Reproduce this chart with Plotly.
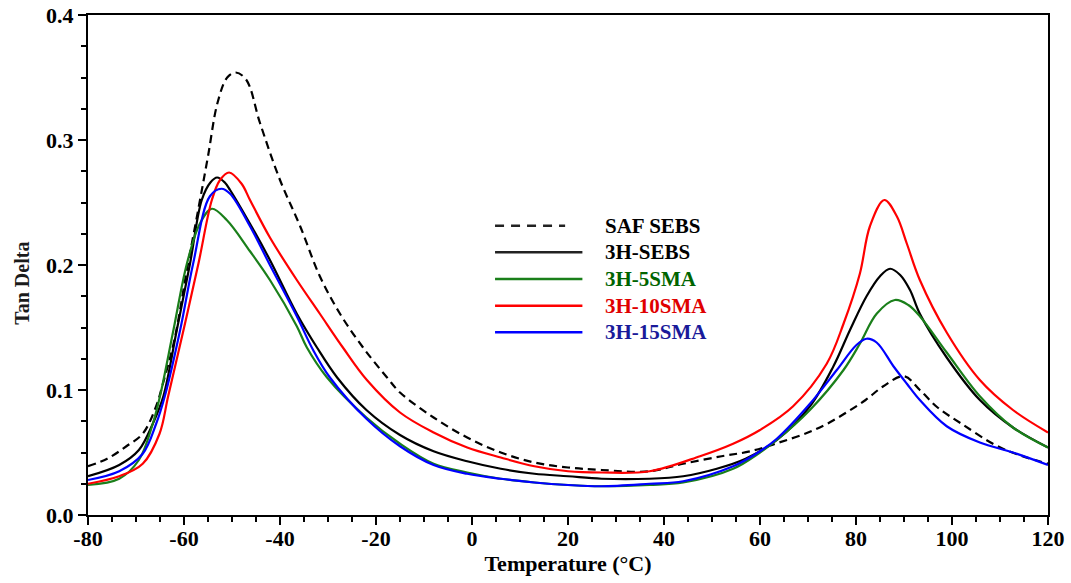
import plotly.graph_objects as go

# ---- data ----
saf_x = [-80, -76, -72, -68.6, -65.8, -64.4, -62, -59.4, -57, -55, -53, -51, -49.2, -47, -44.2, -40,
         -35.8, -31.7, -27.5, -22.7, -17.7, -15, -8, -1, 6, 13, 20, 27, 37, 44, 52, 58, 64, 70, 74,
         78, 82, 85.7, 90, 93.3, 97, 102, 109, 114, 120]
saf_y = [0.039, 0.045, 0.055, 0.065, 0.087, 0.105, 0.14, 0.196, 0.245, 0.287, 0.33, 0.35, 0.354, 0.348,
         0.314, 0.268, 0.231, 0.191, 0.161, 0.134, 0.11, 0.098, 0.078, 0.062, 0.05, 0.042, 0.038, 0.036,
         0.035, 0.041, 0.047, 0.051, 0.058, 0.066, 0.073, 0.082, 0.092, 0.103, 0.111, 0.1, 0.086, 0.073,
         0.056, 0.048, 0.041]

sebs_x = [-80, -73.5, -69.4, -66.5, -64.3, -61.5, -58.75, -56.3, -54.5, -53.1, -51.5, -50.4, -46.25,
          -42.1, -36.5, -32.3, -28.1, -22, -15, -8, -1, 6, 13, 20, 27, 37, 44, 51, 57, 63.5, 70.4, 75.3,
          78.75, 82.2, 85, 87.1, 89.2, 91.25, 93.3, 98.9, 105.8, 112.7, 120]
sebs_y = [0.031, 0.040, 0.052, 0.073, 0.095, 0.148, 0.201, 0.252, 0.266, 0.27, 0.266, 0.26, 0.233,
          0.204, 0.161, 0.134, 0.11, 0.084, 0.064, 0.051, 0.043, 0.037, 0.033, 0.031, 0.029, 0.029,
          0.031, 0.037, 0.045, 0.06, 0.087, 0.119, 0.148, 0.175, 0.191, 0.197, 0.192, 0.18, 0.161,
          0.126, 0.092, 0.070, 0.054]

sma5_x = [-80, -73.5, -69.4, -66.5, -65, -62.2, -59.4, -56.7, -54.2, -51.1, -46.25, -42.1, -36.5,
          -34.4, -30.2, -22, -15, -8, -1, 6, 13, 20, 27, 37, 44, 54.4, 60, 63.5, 70.4, 77.4, 80.8,
          84.3, 88.1, 90.9, 93.3, 98.9, 105.8, 112.7, 120]
sma5_y = [0.024, 0.029, 0.044, 0.073, 0.095, 0.148, 0.201, 0.233, 0.245, 0.236, 0.211, 0.188, 0.151,
          0.134, 0.11, 0.078, 0.057, 0.041, 0.034, 0.029, 0.026, 0.024, 0.023, 0.024, 0.026, 0.037,
          0.05, 0.06, 0.084, 0.116, 0.137, 0.161, 0.172, 0.168, 0.159, 0.13, 0.095, 0.070, 0.054]

sma10_x = [-80, -73.5, -68.6, -65.1, -63.3, -60.1, -57, -54.2, -52.5, -50.6, -48, -46.25, -42.1,
           -36.5, -31.7, -26.9, -21.9, -15, -8, -1, 6, 13, 20, 27, 37, 47.5, 54.4, 60, 66.9, 73.9,
           77.4, 80.8, 82.9, 85.9, 88.5, 90.6, 93.3, 98.9, 105.8, 112.7, 120]
sma10_y = [0.025, 0.031, 0.041, 0.065, 0.095, 0.148, 0.201, 0.252, 0.268, 0.274, 0.265, 0.252, 0.222,
           0.188, 0.161, 0.134, 0.108, 0.082, 0.066, 0.054, 0.046, 0.039, 0.035, 0.034, 0.035, 0.047,
           0.057, 0.068, 0.087, 0.121, 0.153, 0.193, 0.231, 0.252, 0.239, 0.217, 0.188, 0.146,
           0.108, 0.084, 0.066]

sma15_x = [-80, -73.5, -68.6, -65.8, -64, -60.8, -58.1, -54.6, -52.2, -50.4, -46.25, -42.1, -36.5,
           -33.1, -29.6, -22, -15, -8, -1, 6, 13, 20, 27, 37, 44, 54.4, 60, 63.5, 70.4, 76, 80.1,
           82.2, 84.3, 87.8, 90.6, 93.3, 98.9, 105.8, 112.7, 120]
sma15_y = [0.028, 0.035, 0.049, 0.073, 0.095, 0.148, 0.201, 0.255, 0.261, 0.257, 0.231, 0.2, 0.159,
           0.132, 0.11, 0.077, 0.055, 0.040, 0.033, 0.029, 0.026, 0.024, 0.023, 0.025, 0.027, 0.039,
           0.051, 0.061, 0.089, 0.116, 0.136, 0.141, 0.138, 0.119, 0.105, 0.092, 0.071, 0.058, 0.050,
           0.040]

x_tickvals = [-80, -60, -40, -20, 0, 20, 40, 60, 80, 100, 120]
x_ticktext = ["-80", "-60", "-40", "-20", "0", "20", "40", "60", "80", "100", "120"]
y_tickvals = [0.0, 0.1, 0.2, 0.3, 0.4]
y_ticktext = ["0.0", "0.1", "0.2", "0.3", "0.4"]

names = ["SAF SEBS", "3H-SEBS", "3H-5SMA", "3H-10SMA", "3H-15SMA"]
line_colors = ["#000000", "#000000", "#1a7f1a", "#ff0000", "#0000ff"]
text_colors = ["#000000", "#000000", "#006400", "#e00000", "#1a1a9a"]
dashes = ["8px,5px", "solid", "solid", "solid", "solid"]
xs = [saf_x, sebs_x, sma5_x, sma10_x, sma15_x]
ys = [saf_y, sebs_y, sma5_y, sma10_y, sma15_y]

FONT = "Liberation Serif, Times New Roman, serif"

fig = go.Figure()
for n, x, y, c, d in zip(names, xs, ys, line_colors, dashes):
    fig.add_trace(go.Scatter(x=x, y=y, mode="lines", name=n,
                             line=dict(color=c, width=2.2, dash=d, shape="spline", smoothing=1.0)))

# custom legend (long line samples, coloured labels)
leg_y = [0.5786, 0.5254, 0.472, 0.4186, 0.3654]
for i, (n, c, tc, d) in enumerate(zip(names, line_colors, text_colors, dashes)):
    x1 = 0.497 if d != "solid" else 0.515
    fig.add_shape(type="line", xref="paper", yref="paper", x0=0.424, x1=x1,
                  y0=leg_y[i], y1=leg_y[i],
                  line=dict(color=c if c != "#000000" else "#222222", width=2.5,
                            dash="9px,7px" if d != "solid" else "solid"))
    fig.add_annotation(xref="paper", yref="paper", x=0.5365, y=leg_y[i], text=n,
                       showarrow=False, xanchor="left", yanchor="middle",
                       font=dict(family=FONT, size=21, color=tc, weight="bold"))

# y-axis title as annotation to place it exactly
fig.add_annotation(xref="paper", yref="paper", x=-0.069, y=0.464, text="Tan Delta",
                   textangle=-90, showarrow=False, xanchor="center", yanchor="middle",
                   font=dict(family=FONT, size=20, color="#1a1a1a", weight="bold"))

fig.update_layout(
    width=1071, height=583,
    margin=dict(l=88, r=23, t=15, b=68, autoexpand=False),
    paper_bgcolor="white", plot_bgcolor="white",
    showlegend=False,
    font=dict(family=FONT, size=18, color="black", weight="bold"),
)
fig.update_xaxes(
    range=[-80, 120], tickmode="array", tickvals=x_tickvals, ticktext=x_ticktext,
    ticks="outside", ticklen=8, tickwidth=2, tickcolor="black",
    minor=dict(ticks="outside", ticklen=5, tickwidth=1.5, dtick=5, tick0=-80, tickcolor="black"),
    showline=True, linewidth=2, linecolor="black", mirror=True,
    showgrid=False, zeroline=False, automargin=False,
    tickfont=dict(family=FONT, size=22, weight="bold"),
    ticklabelstandoff=-5,
    title=dict(text="Temperature (°C)", standoff=4,
               font=dict(family=FONT, size=22, weight="bold")),
)
fig.update_yaxes(
    range=[0, 0.4], tickmode="array", tickvals=y_tickvals, ticktext=y_ticktext,
    ticks="outside", ticklen=8, tickwidth=2, tickcolor="black",
    minor=dict(ticks="outside", ticklen=5, tickwidth=1.5, dtick=0.025, tick0=0, tickcolor="black"),
    showline=True, linewidth=2, linecolor="black", mirror=True,
    showgrid=False, zeroline=False, automargin=False,
    tickfont=dict(family=FONT, size=22, weight="bold"),
)

fig.write_html("out.html")
